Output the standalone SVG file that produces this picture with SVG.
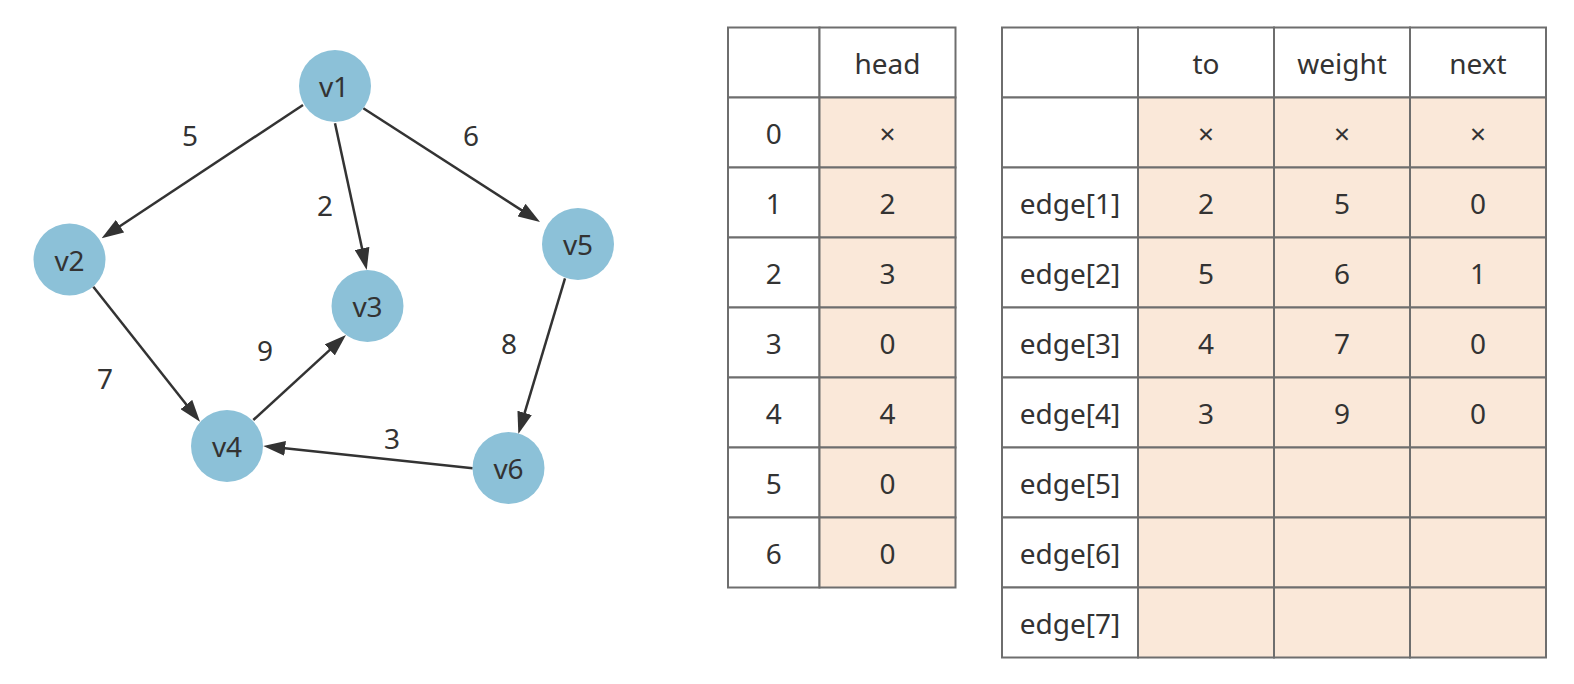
<svg xmlns="http://www.w3.org/2000/svg" width="1574" height="684" viewBox="0 0 1574 684">
<style>
text{font-family:"Noto Sans","Open Sans","Liberation Sans",sans-serif;font-size:28px;fill:#333;text-anchor:middle}
.node{fill:#8cc1d8}
.edge{stroke:#333;stroke-width:2.5;fill:none;marker-end:url(#arr)}
.cell{stroke:#6e6e6e;stroke-width:2;fill:#fff}
.hl{stroke:#6e6e6e;stroke-width:2;fill:#fae8d9}
</style>
<defs>
<marker id="arr" markerUnits="userSpaceOnUse" markerWidth="22" markerHeight="15" refX="12" refY="7.5" orient="auto">
<path d="M0,0 L22,7.5 L0,15 z" fill="#333"/>
</marker>
</defs>
<rect width="1574" height="684" fill="#fff"/>
<g id="connectors">
<line class="edge" x1="303" y1="105" x2="110" y2="232.8"/>
<line class="edge" x1="335" y1="123.3" x2="364.6" y2="260.2"/>
<line class="edge" x1="363.3" y1="108.3" x2="531.6" y2="216.6"/>
<line class="edge" x1="93.3" y1="286.7" x2="193.8" y2="413.9"/>
<line class="edge" x1="253.3" y1="420" x2="338.6" y2="341.8"/>
<line class="edge" x1="565" y1="278.3" x2="521.2" y2="424.4"/>
<line class="edge" x1="472.7" y1="468.3" x2="273.2" y2="447.1"/>
<text x="190" y="146">5</text>
<text x="325" y="216">2</text>
<text x="471" y="146">6</text>
<text x="105" y="389">7</text>
<text x="265" y="361">9</text>
<text x="509" y="354">8</text>
<text x="392" y="449">3</text>
</g>
<g id="v1"><circle class="node" cx="335" cy="86" r="36"/><text x="334" y="97">v1</text></g>
<g id="v2"><circle class="node" cx="69.5" cy="259.5" r="36"/><text x="69.5" y="270.5">v2</text></g>
<g id="v3"><circle class="node" cx="367.5" cy="306" r="36"/><text x="367.5" y="317">v3</text></g>
<g id="v4"><circle class="node" cx="227" cy="446" r="36"/><text x="227" y="457">v4</text></g>
<g id="v5"><circle class="node" cx="578" cy="244" r="36"/><text x="578" y="255">v5</text></g>
<g id="v6"><circle class="node" cx="508.5" cy="468" r="36"/><text x="508.5" y="479">v6</text></g>
<g id="head-table">
<rect class="cell" x="728" y="27.5" width="91.5" height="70"/>
<rect class="cell" x="819.5" y="27.5" width="136" height="70"/>
<text x="887.5" y="74">head</text>
<rect class="cell" x="728" y="97.5" width="91.5" height="70"/><rect class="hl" x="819.5" y="97.5" width="136" height="70"/>
<text x="773.75" y="144">0</text><text x="887.5" y="144">×</text>
<rect class="cell" x="728" y="167.5" width="91.5" height="70"/><rect class="hl" x="819.5" y="167.5" width="136" height="70"/>
<text x="773.75" y="214">1</text><text x="887.5" y="214">2</text>
<rect class="cell" x="728" y="237.5" width="91.5" height="70"/><rect class="hl" x="819.5" y="237.5" width="136" height="70"/>
<text x="773.75" y="284">2</text><text x="887.5" y="284">3</text>
<rect class="cell" x="728" y="307.5" width="91.5" height="70"/><rect class="hl" x="819.5" y="307.5" width="136" height="70"/>
<text x="773.75" y="354">3</text><text x="887.5" y="354">0</text>
<rect class="cell" x="728" y="377.5" width="91.5" height="70"/><rect class="hl" x="819.5" y="377.5" width="136" height="70"/>
<text x="773.75" y="424">4</text><text x="887.5" y="424">4</text>
<rect class="cell" x="728" y="447.5" width="91.5" height="70"/><rect class="hl" x="819.5" y="447.5" width="136" height="70"/>
<text x="773.75" y="494">5</text><text x="887.5" y="494">0</text>
<rect class="cell" x="728" y="517.5" width="91.5" height="70"/><rect class="hl" x="819.5" y="517.5" width="136" height="70"/>
<text x="773.75" y="564">6</text><text x="887.5" y="564">0</text>
</g>
<g id="edge-table">
<rect class="cell" x="1002" y="27.5" width="136" height="70"/>
<rect class="cell" x="1138" y="27.5" width="136" height="70"/>
<rect class="cell" x="1274" y="27.5" width="136" height="70"/>
<rect class="cell" x="1410" y="27.5" width="136" height="70"/>
<text x="1206" y="74">to</text><text x="1342" y="74">weight</text><text x="1478" y="74">next</text>
<rect class="cell" x="1002" y="97.5" width="136" height="70"/>
<rect class="hl" x="1138" y="97.5" width="136" height="70"/><rect class="hl" x="1274" y="97.5" width="136" height="70"/><rect class="hl" x="1410" y="97.5" width="136" height="70"/>
<text x="1206" y="144">×</text><text x="1342" y="144">×</text><text x="1478" y="144">×</text>
<rect class="cell" x="1002" y="167.5" width="136" height="70"/>
<rect class="hl" x="1138" y="167.5" width="136" height="70"/><rect class="hl" x="1274" y="167.5" width="136" height="70"/><rect class="hl" x="1410" y="167.5" width="136" height="70"/>
<text x="1070" y="214">edge[1]</text><text x="1206" y="214">2</text><text x="1342" y="214">5</text><text x="1478" y="214">0</text>
<rect class="cell" x="1002" y="237.5" width="136" height="70"/>
<rect class="hl" x="1138" y="237.5" width="136" height="70"/><rect class="hl" x="1274" y="237.5" width="136" height="70"/><rect class="hl" x="1410" y="237.5" width="136" height="70"/>
<text x="1070" y="284">edge[2]</text><text x="1206" y="284">5</text><text x="1342" y="284">6</text><text x="1478" y="284">1</text>
<rect class="cell" x="1002" y="307.5" width="136" height="70"/>
<rect class="hl" x="1138" y="307.5" width="136" height="70"/><rect class="hl" x="1274" y="307.5" width="136" height="70"/><rect class="hl" x="1410" y="307.5" width="136" height="70"/>
<text x="1070" y="354">edge[3]</text><text x="1206" y="354">4</text><text x="1342" y="354">7</text><text x="1478" y="354">0</text>
<rect class="cell" x="1002" y="377.5" width="136" height="70"/>
<rect class="hl" x="1138" y="377.5" width="136" height="70"/><rect class="hl" x="1274" y="377.5" width="136" height="70"/><rect class="hl" x="1410" y="377.5" width="136" height="70"/>
<text x="1070" y="424">edge[4]</text><text x="1206" y="424">3</text><text x="1342" y="424">9</text><text x="1478" y="424">0</text>
<rect class="cell" x="1002" y="447.5" width="136" height="70"/>
<rect class="hl" x="1138" y="447.5" width="136" height="70"/><rect class="hl" x="1274" y="447.5" width="136" height="70"/><rect class="hl" x="1410" y="447.5" width="136" height="70"/>
<text x="1070" y="494">edge[5]</text>
<rect class="cell" x="1002" y="517.5" width="136" height="70"/>
<rect class="hl" x="1138" y="517.5" width="136" height="70"/><rect class="hl" x="1274" y="517.5" width="136" height="70"/><rect class="hl" x="1410" y="517.5" width="136" height="70"/>
<text x="1070" y="564">edge[6]</text>
<rect class="cell" x="1002" y="587.5" width="136" height="70"/>
<rect class="hl" x="1138" y="587.5" width="136" height="70"/><rect class="hl" x="1274" y="587.5" width="136" height="70"/><rect class="hl" x="1410" y="587.5" width="136" height="70"/>
<text x="1070" y="634">edge[7]</text>
</g>
</svg>
